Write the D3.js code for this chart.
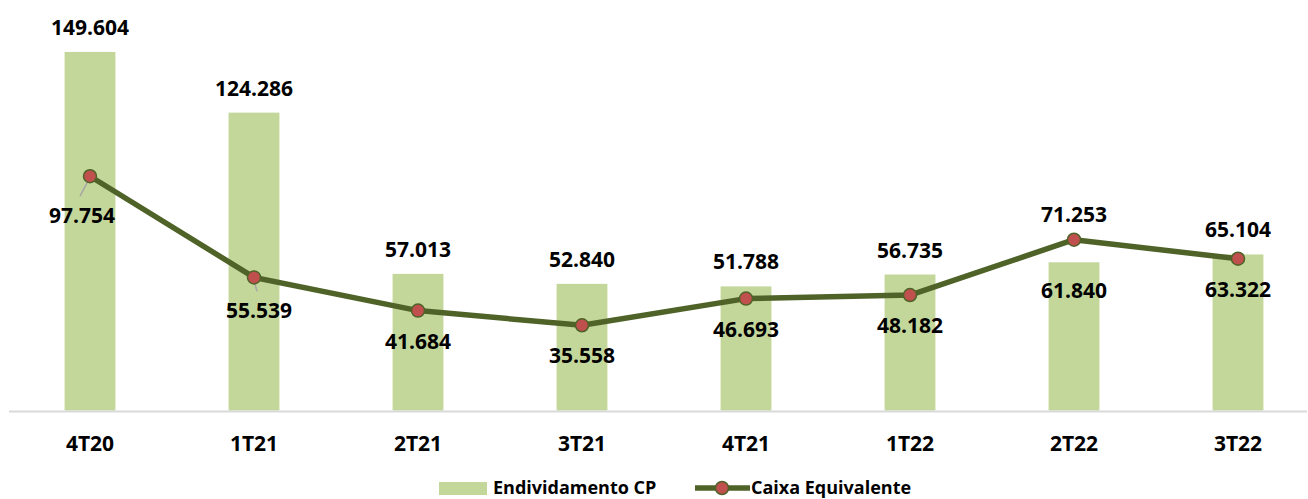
<!DOCTYPE html>
<head>
  <meta charset="utf-8">
  <script src="https://d3js.org/d3.v7.min.js"></script>
  <style>
    body { margin: 0; background: #fff; }
    text { font-family: "Open Sans", sans-serif; font-weight: bold; fill: #000; }
  </style>
</head>
<body>
<svg id="chart" width="1308" height="499"></svg>
<script>
// data
var categories = ["4T20", "1T21", "2T21", "3T21", "4T21", "1T22", "2T22", "3T22"];
var endividamentoCP = [149.604, 124.286, 57.013, 52.840, 51.788, 56.735, 61.840, 65.104];
var caixaEquivalente = [97.754, 55.539, 41.684, 35.558, 46.693, 48.182, 71.253, 63.322];

var barColor = "#C4D79B",
    lineColor = "#4F6228",
    markerColor = "#C0504D";

var svg = d3.select("#chart");

var x = d3.scaleBand().domain(categories).range([8, 1320]);
var y = d3.scaleLinear().domain([0, 150]).range([410.5, 51]);
var barW = x.bandwidth() * 0.31;
function cx(d) { return x(d) + x.bandwidth() / 2; }

var fmt = function(v) { return v.toFixed(3); };

// bars
svg.selectAll(".bar")
  .data(categories)
  .enter()
  .append("rect")
  .attr("class", "bar")
  .attr("x", function(d) { return cx(d) - barW / 2; })
  .attr("y", function(d, i) { return y(endividamentoCP[i]); })
  .attr("width", barW)
  .attr("height", function(d, i) { return y(0) - y(endividamentoCP[i]); })
  .attr("fill", barColor);

// category axis line
svg.append("line")
  .attr("x1", 9).attr("x2", 1307)
  .attr("y1", 411.5).attr("y2", 411.5)
  .attr("stroke", "#D9D9D9")
  .attr("stroke-width", 2);

// category labels
svg.selectAll(".cat")
  .data(categories)
  .enter()
  .append("text")
  .attr("class", "cat")
  .attr("x", cx)
  .attr("y", 443)
  .attr("text-anchor", "middle")
  .attr("dominant-baseline", "central")
  .style("font-size", "21px")
  .text(function(d) { return d; });

// line
var pts = categories.map(function(d, i) { return [cx(d), y(caixaEquivalente[i])]; });
svg.append("path")
  .attr("d", d3.line()(pts))
  .attr("fill", "none")
  .attr("stroke", lineColor)
  .attr("stroke-width", 5.5)
  .attr("stroke-linejoin", "round");

// leader lines for the dragged labels (4T20, 1T21)
var leaders = [[0, -1, 3, -10, 20], [1, 0, 3, 3, 14]];
leaders.forEach(function(l) {
  var p = pts[l[0]];
  svg.append("line")
    .attr("x1", p[0] + l[1]).attr("y1", p[1] + l[2])
    .attr("x2", p[0] + l[3]).attr("y2", p[1] + l[4])
    .attr("stroke", "#A6A6A6")
    .attr("stroke-width", 1.5);
});

svg.selectAll(".dot")
  .data(pts)
  .enter()
  .append("circle")
  .attr("cx", function(d) { return d[0]; })
  .attr("cy", function(d) { return d[1]; })
  .attr("r", 6.5)
  .attr("fill", markerColor)
  .attr("stroke", lineColor)
  .attr("stroke-width", 1.5);

// value labels: the higher series gets its label above
var lineNudge = { 0: [-8, 9], 1: [5, 3] };
categories.forEach(function(d, i) {
  var bv = endividamentoCP[i], lv = caixaEquivalente[i];
  var by, ly, lx = cx(d);
  if (lv > bv) {
    ly = y(lv) - 26;
    by = y(bv) + 28;
  } else {
    by = y(bv) - 25;
    ly = y(lv) + 30;
  }
  if (lineNudge[i]) { lx += lineNudge[i][0]; ly += lineNudge[i][1]; }
  svg.append("text")
    .attr("x", cx(d)).attr("y", by)
    .attr("text-anchor", "middle")
    .attr("dominant-baseline", "central")
    .style("font-size", "21px")
    .text(fmt(bv));
  svg.append("text")
    .attr("x", lx).attr("y", ly)
    .attr("text-anchor", "middle")
    .attr("dominant-baseline", "central")
    .style("font-size", "21px")
    .text(fmt(lv));
});

// legend
var legend = svg.append("g");
legend.append("rect")
  .attr("x", 439).attr("y", 482)
  .attr("width", 48).attr("height", 13)
  .attr("fill", barColor);
legend.append("text")
  .attr("x", 493).attr("y", 494)
  .style("font-size", "18px")
  .text("Endividamento CP");
legend.append("line")
  .attr("x1", 695).attr("x2", 750)
  .attr("y1", 488).attr("y2", 488)
  .attr("stroke", lineColor)
  .attr("stroke-width", 5.5);
legend.append("circle")
  .attr("cx", 722).attr("cy", 488)
  .attr("r", 6.5)
  .attr("fill", markerColor)
  .attr("stroke", lineColor)
  .attr("stroke-width", 1.5);
legend.append("text")
  .attr("x", 751).attr("y", 494)
  .style("font-size", "18px")
  .text("Caixa Equivalente");
</script>
</body>
</html>
